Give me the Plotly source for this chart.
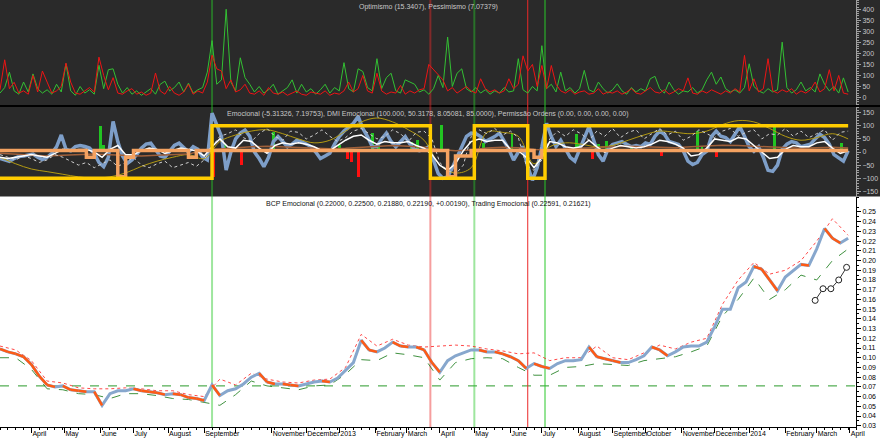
import pandas as pd
import plotly.graph_objects as go
from plotly.subplots import make_subplots

START = "2012-03-05"
X_END = "2014-04-07"

# ---------------- top panel (every 3 trading days) ----------------
OPTIMISMO = [
    20, 45, 115, 30, 15, 70, 25, 107, 40, 20,
    35, 15, 60, 25, 153, 30, 10, 50, 20, 35,
    15, 146, 40, 126, 130, 60, 20, 45, 15, 30,
    10, 25, 40, 15, 60, 74, 30, 45, 70, 25,
    65, 20, 35, 45, 115, 258, 60, 80, 400, 70,
    30, 180, 90, 60, 25, 50, 20, 35, 60, 15,
    30, 45, 80, 20, 60, 25, 40, 15, 35, 60,
    20, 45, 30, 158, 40, 25, 130, 118, 45, 30,
    176, 40, 90, 110, 30, 20, 80, 70, 60, 25,
    35, 15, 40, 100, 45, 274, 50, 110, 130, 40,
    25, 45, 20, 35, 15, 30, 20, 45, 25, 30,
    176, 35, 20, 50, 30, 235, 40, 60, 25, 115,
    30, 45, 20, 40, 123, 35, 25, 70, 40, 20,
    35, 62, 30, 15, 45, 25, 40, 30, 85, 96,
    40, 20, 70, 35, 15, 30, 25, 45, 20, 35,
    80, 115, 60, 93, 40, 25, 35, 20, 45, 153,
    50, 30, 20, 40, 25, 35, 251, 45, 20, 35,
    70, 30, 45, 25, 107, 60, 30, 50, 20, 89,
    25,
]
PESSIMISMO = [
    35, 171, 40, 69, 20, 30, 15, 100, 25, 120,
    70, 20, 30, 50, 156, 70, 20, 15, 30, 45,
    25, 183, 100, 35, 90, 20, 15, 30, 40, 15,
    25, 10, 20, 111, 30, 15, 50, 20, 10, 25,
    60, 15, 30, 20, 70, 192, 130, 120, 40, 80,
    25, 35, 60, 20, 15, 30, 10, 45, 20, 15,
    25, 10, 20, 30, 15, 10, 25, 20, 15, 30,
    10, 20, 15, 30, 70, 25, 40, 100, 30, 20,
    110, 30, 15, 25, 20, 55, 15, 30, 20, 35,
    40, 150, 126, 100, 80, 30, 45, 20, 35, 50,
    30, 20, 85, 40, 25, 35, 20, 30, 85, 40,
    60, 189, 120, 150, 50, 145, 40, 145, 60, 30,
    20, 35, 15, 25, 30, 15, 20, 40, 15, 25,
    20, 30, 15, 25, 40, 20, 15, 30, 45, 25,
    20, 35, 15, 25, 40, 30, 89, 20, 15, 30,
    20, 35, 25, 15, 30, 20, 40, 25, 191, 30,
    85, 25, 40, 176, 30, 20, 35, 25, 40, 15,
    30, 20, 35, 70, 25, 40, 126, 30, 100, 20,
    15,
]

# ---------------- middle panel ----------------
EMOCIONAL = [  # every 3 trading days
    -24, -30, -36, -25, -17, -15, -10, -8, -20, -29,
    -20, -5, 20, 65, 10, 5, 21, 25, 21, 15,
    -5, -40, -56, -20, 117, 40, -15, -44, -30, -10,
    15, 30, 34, 10, -15, -20, 5, 25, 34, 15,
    0, 20, 10, -20, -30, 148, 100, 59, -69, 0,
    50, 72, 84, 60, 0, -25, -56, -20, 40, 59,
    40, 20, 30, 45, 40, 30, 21, 0, -25, -15,
    -5, 30, 59, 80, 97, 110, 136, 90, 59, 20,
    21, 50, 72, 40, 20, 40, 59, 30, 10, 5,
    10, 20, -30, -82, -100, -95, -60, -20, 21, 60,
    72, 70, 59, 40, 50, 59, 72, 40, 10, -31,
    0, 21, -56, -108, -60, 20, 110, 59, 21, 45,
    10, -20, -35, 10, 60, 97, 45, -10, -35, 10,
    29, 35, 40, 30, 20, 25, 20, 35, 29, 60,
    80, 68, 40, 35, 29, 5, -35, -48, -40, -10,
    3, 60, 80, 60, 55, 40, 70, 97, 60, 20,
    3, 20, -20, -70, -74, -50, 10, 30, 40, 35,
    20, 25, 30, 50, 68, 55, 30, -10, -22, -35,
    5,
]
SINAL = [  # weekly, white line
    -20, -25, -20, -15, -10, -15, -20, -5, 10, 5,
    10, 10, 0, -20, 10, 25, -10, -10, 5, 15,
    10, -5, 5, 15, 10, 5, -15, 20, 50, 20,
    15, 45, 40, 15, -5, 25, 35, 30, 35, 30,
    20, 5, 5, 25, 45, 60, 65, 45, 30, 40,
    35, 35, 40, 25, 15, -10, -50, -70, -45, 5,
    40, 50, 40, 45, 45, 10, 5, -20, -60, -20,
    40, 35, 20, 15, 20, 45, 20, 0, 15, 25,
    20, 15, 20, 30, 45, 40, 30, 15, -15, -10,
    15, 50, 45, 40, 55, 50, 25, 0, -25, -20,
    10, 25, 20, 20, 35, 40, 15, -5, 5,
]
DMI = [  # weekly, white dotted
    -10, -20, -30, -15, -25, -40, -30, -10, -20, -35,
    -50, -40, -60, -45, -30, -55, -40, -20, -50, -60,
    -45, -35, -60, -50, -40, -55, -30,
    20, 60, 70, 85, 55, 40, 70, 90, 60, 45,
    80, 75, 50, 65, 85, 60, 40, 55, 80, 90,
    70, 50, 60, 85, 70, 40, 75, 80, 50,
    -40, -70, -85, -50,
    60, 85, 70, 90, 65, 80, 55,
    -50, -70,
    -30,
    50, 80, 60, 85, 70, 45, 80, 60, 90, 55,
    75, 85, 50, 70, 90, 65, 80, 45, 60, 85,
    70, 55, 80, 90, 60, 75, 85, 50, 70, 65,
    90, 60, 80, 55, 70, 85, 45, 75, 80,
]
NIVEL = [  # weekly, orange step line
    6, 6, 6, 6, 6, 6, 6, 6, 6, 6,
    6, -20, 6, 6, 6, -95, -20, 6, 6, 6,
    6, 6, 6, 6, -20, 6, 6, 6, 6, 6,
    6, 6, 6, 6, 6, 6, 6, 6, 6, 6,
    6, 6, 6, 6, 6, 6, 6, 6, 6, 6,
    6, 6, 6, 6, 6, 6, 6, -95, -15, -15,
    6, 6, 6, 6, 6, 6, 6, 6, -20, 6,
    6, 6, 6, 6, 6, 6, 6, 6, 6, 6,
    6, 6, 6, 6, 6, 6, 6, 6, 6, 6,
    6, 6, 6, 6, 6, 6, 6, 6, 6, 6,
    6, 6, 6, 6, 6, 6, 6, 6, 6,
]
MEDIA_LONGA = [  # every 10 trading days, olive line
    -20, -45, -65, -75, -85, -95, -100, -95, -80, -55,
    -35, -20, -10, -25, 40, 65, 80, 85, 70, 50,
    35, 45, 80, 115, 130, 115, 85, 45, -50, -80,
    -60, 75, 75, 60, -45, 20, 35, 30, 20, 25,
    45, 65, 80, 75, 70, 80, 105, 120, 115, 90,
    60, 45, 55, 70, 50,
]
MEDIA_CURTA = [  # every 10 trading days, brown line
    -5, -8, -12, -15, -12, -10, -8, -10, -12, -15,
    -12, -10, -8, 8, 12, 18, 20, 22, 20, 18,
    15, 12, 14, 18, 22, 25, 22, 18, 10, 5,
    8, 15, 18, 16, 10, 8, 12, 15, 18, 20,
    22, 20, 18, 16, 20, 24, 26, 25, 22, 18,
    15, 14, 16, 18, 15,
]
HIST_DATES = [
    "2012-06-01", "2012-06-05", "2012-09-20", "2012-11-02", "2013-01-01",
    "2013-01-30", "2013-02-05", "2013-03-06", "2013-03-12", "2013-04-02",
    "2013-05-09", "2013-06-04", "2013-07-31", "2013-08-02", "2013-08-20",
    "2013-08-27", "2013-09-18", "2013-11-15", "2013-11-20", "2014-01-23",
    "2014-03-25",
    "2012-09-11", "2012-10-05", "2013-01-08", "2013-01-11", "2013-01-17",
    "2013-08-14", "2013-10-15", "2013-12-03",
]
HIST_VALUES = [
    100, 25, 30, 78, 25,
    72, 35, 40, 45, 105,
    33, 72, 68, 30, 30,
    42, 23, 81, 23, 106,
    36,
    -95, -50, -25, -40, -95,
    -28, -15, -20,
]
EVENT_DATES = ["2012-09-10", "2013-03-22", "2013-05-01", "2013-06-18", "2013-07-03"]
EVENT_SIDE = ["buy", "sell", "buy", "sell", "buy"]
PERM_DATES = ["2012-03-05", "2012-09-10", "2013-03-22", "2013-05-01",
              "2013-06-18", "2013-07-03", "2014-03-31"]
PERM_VALUES = [-100, 100, -100, 100, -100, 100, 100]

# ---------------- price panel ----------------
CLOSE = [  # weekly
    0.109, 0.106, 0.104, 0.101, 0.093, 0.081, 0.072, 0.070, 0.071, 0.067,
    0.066, 0.065, 0.065, 0.051, 0.063, 0.066, 0.066, 0.068, 0.066, 0.065,
    0.064, 0.062, 0.063, 0.062, 0.059, 0.058, 0.056, 0.072, 0.061, 0.066,
    0.068, 0.073, 0.080, 0.084, 0.075, 0.073, 0.073, 0.072, 0.071, 0.073,
    0.075, 0.076, 0.075, 0.079, 0.087, 0.095, 0.118, 0.108, 0.106, 0.110,
    0.116, 0.112, 0.111, 0.111, 0.108, 0.095, 0.085, 0.097, 0.102, 0.105,
    0.108, 0.108, 0.106, 0.106, 0.104, 0.101, 0.097, 0.089, 0.094, 0.091,
    0.089, 0.094, 0.097, 0.097, 0.098, 0.111, 0.101, 0.099, 0.097, 0.095,
    0.095, 0.098, 0.102, 0.111, 0.108, 0.102, 0.106, 0.111, 0.112, 0.112,
    0.116, 0.132, 0.150, 0.150, 0.172, 0.178, 0.194, 0.191, 0.180, 0.169,
    0.183, 0.190, 0.196, 0.195, 0.212, 0.233, 0.223, 0.218, 0.223,
]
UPPER = [  # every 10 trading days
    0.112, 0.108, 0.097, 0.076, 0.074, 0.069, 0.068, 0.068, 0.069, 0.068,
    0.066, 0.066, 0.062, 0.060, 0.078, 0.072, 0.084, 0.078, 0.075, 0.074,
    0.077, 0.078, 0.090, 0.124, 0.112, 0.119, 0.113, 0.111, 0.112, 0.113,
    0.112, 0.109, 0.107, 0.104, 0.105, 0.097, 0.100, 0.100, 0.112, 0.100,
    0.098, 0.105, 0.113, 0.109, 0.116, 0.120, 0.155, 0.180, 0.198, 0.186,
    0.190, 0.200, 0.220, 0.243, 0.226,
]
LOWER = [  # every 10 trading days
    0.100, 0.100, 0.088, 0.068, 0.067, 0.063, 0.062, 0.058, 0.063, 0.063,
    0.061, 0.058, 0.057, 0.054, 0.051, 0.062, 0.076, 0.071, 0.069, 0.067,
    0.071, 0.072, 0.083, 0.098, 0.097, 0.105, 0.103, 0.100, 0.077, 0.095,
    0.099, 0.100, 0.099, 0.090, 0.082, 0.082, 0.090, 0.091, 0.094, 0.093,
    0.092, 0.097, 0.099, 0.101, 0.106, 0.112, 0.143, 0.160, 0.182, 0.160,
    0.170, 0.185, 0.180, 0.200, 0.212,
]
TRADE_DATES = ["2014-02-28", "2014-03-07", "2014-03-14", "2014-03-21", "2014-03-28"]
TRADE_VALUES = [0.159, 0.171, 0.171, 0.180, 0.193]
REF_LEVEL = 0.071
PRICE_TICKS = [0.03, 0.04, 0.05, 0.06, 0.07, 0.08, 0.09, 0.10, 0.11, 0.12, 0.13,
               0.14, 0.15, 0.16, 0.17, 0.18, 0.19, 0.20, 0.21, 0.22, 0.23, 0.24, 0.25]
MONTH_LABELS = ["April", "May", "June", "July", "August", "September", "",
                "November", "December", "2013", "February", "March", "April",
                "May", "June", "July", "August", "September", "October",
                "November", "December", "2014", "February", "March", "April"]

TITLE_TOP = "Optimismo (15.3407), Pessimismo (7.07379)"
TITLE_MID = ("Emocional (-5.31326, 7.19753), DMI Emocional (100.000, 50.3178, 8.05081, 85.0000), "
             "Permissão Ordens (0.00, 0.00, 0.00, 0.00)")
TITLE_BOT = ("BCP Emocional (0.22000, 0.22500, 0.21880, 0.22190, +0.00190), "
             "Trading Emocional (0.22591, 0.21621)")

# ---------------- dates ----------------
d_top = pd.date_range(START, periods=len(OPTIMISMO), freq="3B")
d_emo = pd.date_range(START, periods=len(EMOCIONAL), freq="3B")
d_wk = pd.date_range(START, periods=len(CLOSE), freq="5B")
d_2wk = pd.date_range(START, periods=len(UPPER), freq="10B")
month_ticks = pd.date_range("2012-04-01", periods=len(MONTH_LABELS), freq="BMS")

# ---------------- style ----------------
FONT = "Liberation Sans Narrow, Liberation Sans, Arial, sans-serif"
DARK = "#2a2a2a"
W, H = 880, 438
ML, MR, MT, MB = 0, 24, 0, 11
PH = H - MT - MB
PW = W - ML - MR


def dom(top_px, bot_px):
    return [1 - bot_px / PH, 1 - top_px / PH]


D1, D2, D3 = dom(0, 105), dom(107, 196.5), dom(197, PH)

fig = make_subplots(rows=3, cols=1, shared_xaxes=True, vertical_spacing=0)

# top panel
fig.add_trace(go.Scatter(x=d_top, y=OPTIMISMO, mode="lines",
                         line=dict(color="#33c033", width=1)), row=1, col=1)
fig.add_trace(go.Scatter(x=d_top, y=PESSIMISMO, mode="lines",
                         line=dict(color="#ee1414", width=1)), row=1, col=1)

# middle panel
fig.add_trace(go.Scatter(x=d_emo, y=EMOCIONAL, mode="lines",
                         line=dict(color="#7d9ec8", width=3.5)), row=2, col=1)
fig.add_trace(go.Scatter(x=d_2wk, y=MEDIA_LONGA, mode="lines", line_shape="spline",
                         line=dict(color="#b39a12", width=1)), row=2, col=1)
fig.add_trace(go.Scatter(x=d_2wk, y=MEDIA_CURTA, mode="lines",
                         line=dict(color="#a0603a", width=1.5)), row=2, col=1)
hist_colors = ["#22c422" if v >= 0 else "#ff1010" for v in HIST_VALUES]
fig.add_trace(go.Bar(x=pd.to_datetime(HIST_DATES), y=HIST_VALUES, marker_color=hist_colors,
                     marker_line_width=0, width=1.8 * 86400000), row=2, col=1)
fig.add_trace(go.Scatter(x=d_wk, y=DMI, mode="lines",
                         line=dict(color="#d0d0d0", width=1, dash="dot")), row=2, col=1)
fig.add_trace(go.Scatter(x=d_wk, y=SINAL, mode="lines",
                         line=dict(color="#ffffff", width=1.5)), row=2, col=1)
fig.add_trace(go.Scatter(x=d_wk, y=NIVEL, mode="lines", line_shape="hv",
                         line=dict(color="#f4a261", width=3.5)), row=2, col=1)
fig.add_trace(go.Scatter(x=pd.to_datetime(PERM_DATES), y=PERM_VALUES, mode="lines",
                         line_shape="hv", line=dict(color="#ffcc00", width=3.5)), row=2, col=1)

# price panel
fig.add_trace(go.Scatter(x=d_2wk, y=LOWER, mode="lines", opacity=0.85,
                         line=dict(color="#1f7f1f", width=1, dash="dash")), row=3, col=1)
fig.add_trace(go.Scatter(x=d_2wk, y=UPPER, mode="lines", opacity=0.85,
                         line=dict(color="#ff2a2a", width=1, dash="dot")), row=3, col=1)
fig.add_trace(go.Scatter(x=d_wk, y=CLOSE, mode="lines",
                         line=dict(color="#87a7cd", width=3)), row=3, col=1)
ox, oy = [], []
for i in range(1, len(CLOSE)):
    if CLOSE[i] < CLOSE[i - 1]:
        ox += [d_wk[i - 1], d_wk[i], None]
        oy += [CLOSE[i - 1], CLOSE[i], None]
fig.add_trace(go.Scatter(x=ox, y=oy, mode="lines",
                         line=dict(color="#ff5a14", width=2.5)), row=3, col=1)
fig.add_trace(go.Scatter(x=pd.to_datetime(TRADE_DATES), y=TRADE_VALUES, mode="lines+markers",
                         line=dict(color="#333333", width=1),
                         marker=dict(symbol="circle", size=6, color="white",
                                     line=dict(color="#222222", width=1))), row=3, col=1)

# shapes: dark background, separator, reference level, event lines
shapes = [
    dict(type="rect", xref="paper", yref="paper", x0=0, x1=1 + MR / PW,
         y0=D2[0], y1=1, fillcolor=DARK, line=dict(width=0), layer="below"),
    dict(type="line", xref="paper", yref="paper", x0=0, x1=1 + MR / PW,
         y0=(D1[0] + D2[1]) / 2, y1=(D1[0] + D2[1]) / 2,
         line=dict(color="#000000", width=2), layer="below"),
    dict(type="line", xref="paper", yref="y3", x0=0, x1=1, y0=REF_LEVEL, y1=REF_LEVEL,
         line=dict(color="#2a9a2a", width=1, dash="dash"), layer="below"),
]
EVENT_STYLE = [(2, 0.45), (2, 0.45), (2, 0.45), (1, 1.0), (1, 1.0)]
for dte, side, (lw, op) in zip(EVENT_DATES, EVENT_SIDE, EVENT_STYLE):
    col = "rgba(40,200,40,%s)" % op if side == "buy" else "rgba(235,40,40,%s)" % op
    shapes.append(dict(type="line", xref="x", yref="paper", x0=dte, x1=dte, y0=0, y1=1,
                       line=dict(color=col, width=lw), layer="below"))

annotations = [
    dict(text=TITLE_TOP, xref="paper", yref="paper", x=0.5, y=D1[1], yanchor="top",
         yshift=-1, showarrow=False, font=dict(size=7, color="#c8c8c8", family=FONT)),
    dict(text=TITLE_MID, xref="paper", yref="paper", x=0.5, y=D2[1], yanchor="top",
         yshift=-1, showarrow=False, font=dict(size=7, color="#c8c8c8", family=FONT)),
    dict(text=TITLE_BOT, xref="paper", yref="paper", x=0.5, y=D3[1], yanchor="top",
         yshift=-1, showarrow=False, font=dict(size=7, color="#111111", family=FONT)),
]

fig.update_layout(
    width=W, height=H, margin=dict(l=ML, r=MR, t=MT, b=MB, autoexpand=False),
    paper_bgcolor="white", plot_bgcolor="rgba(0,0,0,0)",
    showlegend=False, bargap=0, barmode="overlay",
    font=dict(family=FONT, size=7),
)
fig.layout.shapes = shapes
fig.layout.annotations = annotations

fig.update_xaxes(range=[START, X_END], rangebreaks=[dict(bounds=["sat", "mon"])],
                 showgrid=False, zeroline=False, automargin=False)
fig.update_xaxes(showticklabels=False, ticks="", showline=False, row=1, col=1)
fig.update_xaxes(showticklabels=False, ticks="", showline=False, row=2, col=1)
fig.update_xaxes(showline=True, linecolor="#000000", linewidth=1, ticks="outside", ticklen=5,
                 tickcolor="#000000", tickmode="array", tickvals=month_ticks,
                 ticktext=MONTH_LABELS, ticklabelposition="outside right", tickangle=0,
                 ticklabeloverflow="allow",
                 tickfont=dict(size=7, color="#000000", family=FONT),
                 minor=dict(ticks="outside", ticklen=2, tickcolor="#000000",
                            dtick=7 * 86400000, tick0=START),
                 row=3, col=1)

dark_axis = dict(side="right", showgrid=False, zeroline=False, showline=True,
                 automargin=False, ticklabeloverflow="allow",
                 linecolor="#a0a0a0", linewidth=1, ticks="outside", ticklen=4,
                 tickcolor="#a0a0a0", tickfont=dict(size=7, color="#c8c8c8", family=FONT),
                 tickmode="linear", tick0=0, dtick=50,
                 minor=dict(ticks="outside", ticklen=2, tickcolor="#a0a0a0", dtick=10))
fig.update_layout(
    yaxis=dict(domain=D1, range=[-34, 442], **dark_axis),
    yaxis2=dict(domain=D2, range=[-170, 172], **dark_axis),
    yaxis3=dict(domain=D3, range=[0.0287, 0.2654], side="right", showgrid=False,
                zeroline=False, showline=True, linecolor="#000000", linewidth=1,
                automargin=False, ticklabeloverflow="allow",
                ticks="outside", ticklen=4, tickcolor="#000000",
                tickmode="array", tickvals=PRICE_TICKS, tickformat=".2f",
                tickfont=dict(size=7, color="#000000", family=FONT),
                minor=dict(ticks="outside", ticklen=2, tickcolor="#000000",
                           tickmode="linear", tick0=0.025, dtick=0.01)),
)

fig.write_html("out.html", config={"displayModeBar": False},
               post_script="document.body.style.margin='0px';"
                           "document.body.style.overflow='hidden';")
